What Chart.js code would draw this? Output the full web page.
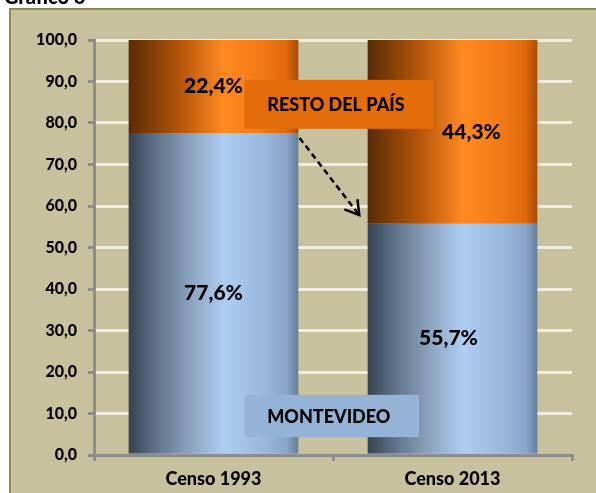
<!DOCTYPE html>
<html>
<head>
<meta charset="utf-8">
<script src="https://cdn.jsdelivr.net/npm/chart.js@4.4.1/dist/chart.umd.min.js"></script>
<style>
  html, body { margin: 0; padding: 0; background: #fff; }
  canvas { display: block; }
</style>
</head>
<body>
<canvas id="grafico6" width="596" height="493"></canvas>
<script>
// Chart data
const categories = ['Censo 1993', 'Censo 2013'];
const montevideo = [77.6, 55.7];
const restoDelPais = [22.4, 44.3];
const seriesNames = ['MONTEVIDEO', 'RESTO DEL PAÍS'];
const titleText = 'Gráfico 6';

const FONT = 'Lato, "Open Sans", sans-serif';
const WEIGHT = '900';

// Format numbers like the original (comma decimal)
function fmt(v) {
    return v.toFixed(1).replace('.', ',');
}

// Cylinder-like horizontal gradients
const orangeStops = [
    [0, '#5a2a05'], [0.12, '#7e3c07'], [0.32, '#b9580c'],
    [0.56, '#ff8a20'], [0.78, '#f27a16'], [0.93, '#de680c'], [1, '#a84c08']
];
const blueStops = [
    [0, '#35414f'], [0.12, '#56687e'], [0.32, '#8299b3'],
    [0.56, '#aecdf2'], [0.78, '#9bb9df'], [0.93, '#8ba5c8'], [1, '#647d9a']
];

function barGradient(stops, fallback) {
    return function(context) {
        const chart = context.chart;
        const xScale = chart.scales.x;
        if (!chart.chartArea || !xScale || context.dataIndex === undefined) return fallback;
        const cx = xScale.getPixelForValue(context.dataIndex);
        const half = (xScale.width / categories.length) * 0.71 / 2;
        const g = chart.ctx.createLinearGradient(cx - half, 0, cx + half, 0);
        stops.forEach(([p, c]) => g.addColorStop(p, c));
        return g;
    };
}

// Background frame + cut-off title
const framePlugin = {
    id: 'frame',
    beforeDraw(chart) {
        const ctx = chart.ctx;
        ctx.save();
        ctx.fillStyle = '#ffffff';
        ctx.fillRect(0, 0, chart.width, chart.height);
        ctx.fillStyle = '#c8c19d';
        ctx.fillRect(10, 9, chart.width - 10, chart.height - 9);
        ctx.strokeStyle = '#948a54';
        ctx.lineWidth = 2;
        ctx.beginPath();
        ctx.moveTo(10, chart.height);
        ctx.lineTo(10, 9);
        ctx.lineTo(chart.width, 9);
        ctx.stroke();
        ctx.fillStyle = '#000';
        ctx.font = WEIGHT + ' 20px ' + FONT;
        ctx.textBaseline = 'alphabetic';
        ctx.fillText(titleText, 4, 4);
        ctx.restore();
    }
};

// Series name boxes (in data coordinates) and value labels
const nameBoxes = [
    { text: seriesNames[1], fill: '#e46c0a', x0: 0.13, x1: 0.92, y0: 90.4, y1: 78.6 },
    { text: seriesNames[0], fill: '#95b3d7', x0: 0.13, x1: 0.86, y0: 14.5, y1: 4.3 }
];
const arrowFrom = [0.36, 76.4];
const arrowTo = [0.61, 57.8];
const labelShift = [[0, -4], [0, 19]];

const labelPlugin = {
    id: 'labels',
    afterDatasetsDraw(chart) {
        const ctx = chart.ctx;
        const xs = chart.scales.x, ys = chart.scales.y;
        ctx.save();

        // name boxes
        nameBoxes.forEach(b => {
            const l = xs.getPixelForValue(b.x0), r = xs.getPixelForValue(b.x1);
            const t = ys.getPixelForValue(b.y0), bt = ys.getPixelForValue(b.y1);
            ctx.fillStyle = b.fill;
            ctx.fillRect(l, t, r - l, bt - t);
            ctx.fillStyle = '#000';
            ctx.font = WEIGHT + ' 18px ' + FONT;
            ctx.textAlign = 'center';
            ctx.textBaseline = 'middle';
            ctx.fillText(b.text, (l + r) / 2 - 3, (t + bt) / 2 + 1);
        });

        // value labels
        ctx.font = WEIGHT + ' 21px ' + FONT;
        ctx.fillStyle = '#000';
        ctx.textAlign = 'center';
        ctx.textBaseline = 'middle';
        chart.data.datasets.forEach((ds, di) => {
            const meta = chart.getDatasetMeta(di);
            meta.data.forEach((bar, i) => {
                const y = (bar.y + bar.base) / 2;
                ctx.fillText(fmt(ds.data[i]) + '%', bar.x + labelShift[di][i], y);
            });
        });

        // dashed arrow
        const x1 = xs.getPixelForValue(arrowFrom[0]), y1 = ys.getPixelForValue(arrowFrom[1]);
        const x2 = xs.getPixelForValue(arrowTo[0]), y2 = ys.getPixelForValue(arrowTo[1]);
        ctx.strokeStyle = '#000';
        ctx.lineWidth = 2.5;
        ctx.setLineDash([6, 4]);
        ctx.beginPath();
        ctx.moveTo(x1, y1);
        ctx.lineTo(x2, y2);
        ctx.stroke();
        ctx.setLineDash([]);
        const ang = Math.atan2(y2 - y1, x2 - x1);
        const len = 16;
        ctx.beginPath();
        ctx.moveTo(x2 + len * Math.cos(ang + 2.6), y2 + len * Math.sin(ang + 2.6));
        ctx.lineTo(x2, y2);
        ctx.lineTo(x2 + len * Math.cos(ang - 2.6), y2 + len * Math.sin(ang - 2.6));
        ctx.stroke();

        ctx.restore();
    }
};

new Chart(document.getElementById('grafico6').getContext('2d'), {
    type: 'bar',
    data: {
        labels: categories,
        datasets: [
            {
                label: seriesNames[0],
                data: montevideo,
                backgroundColor: barGradient(blueStops, '#95b3d7'),
                borderWidth: 0,
                barPercentage: 0.71,
                categoryPercentage: 1
            },
            {
                label: seriesNames[1],
                data: restoDelPais,
                backgroundColor: barGradient(orangeStops, '#e46c0a'),
                borderWidth: 0,
                barPercentage: 0.71,
                categoryPercentage: 1
            }
        ]
    },
    options: {
        responsive: false,
        devicePixelRatio: 1,
        animation: false,
        layout: {
            padding: { left: 10, top: 40, right: 24, bottom: 0 }
        },
        plugins: {
            legend: { display: false },
            tooltip: { enabled: false },
            title: { display: false }
        },
        scales: {
            x: {
                stacked: true,
                afterFit: s => { s.height = 38; },
                border: { color: '#8c8c8c', width: 3 },
                grid: {
                    drawOnChartArea: false,
                    tickLength: 6,
                    tickColor: '#8c8c8c',
                    lineWidth: 3
                },
                ticks: {
                    color: '#000',
                    padding: 7,
                    font: { family: FONT, size: 18, weight: WEIGHT }
                }
            },
            y: {
                stacked: true,
                min: 0,
                max: 100,
                afterFit: s => { s.width = 84; },
                border: { color: '#8c8c8c', width: 3 },
                grid: {
                    color: '#efede0',
                    lineWidth: 3,
                    tickLength: 6,
                    tickColor: '#8c8c8c'
                },
                ticks: {
                    stepSize: 10,
                    color: '#000',
                    padding: 11,
                    font: { family: FONT, size: 16, weight: WEIGHT },
                    callback: v => fmt(v)
                }
            }
        }
    },
    plugins: [framePlugin, labelPlugin]
});
</script>
</body>
</html>
